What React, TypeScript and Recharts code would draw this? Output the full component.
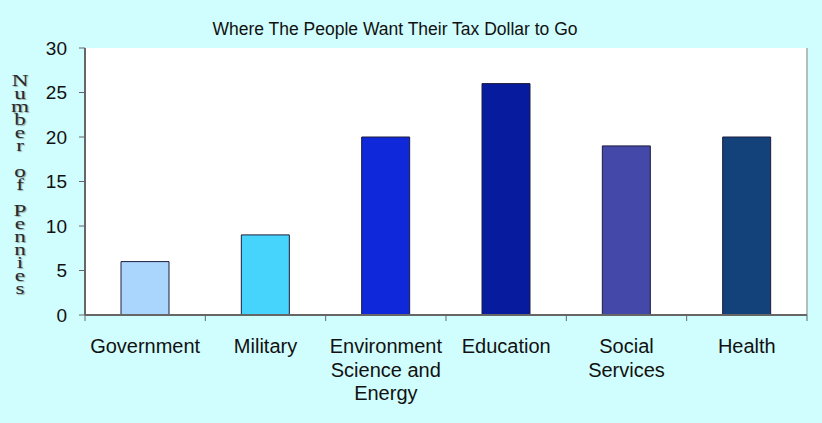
import { BarChart, Bar, XAxis, YAxis, CartesianGrid, Cell } from "recharts";

const categories = [
  "Government",
  "Military",
  "Environment Science and Energy",
  "Education",
  "Social Services",
  "Health",
];
const tickLines = [
  ["Government"],
  ["Military"],
  ["Environment", "Science and", "Energy"],
  ["Education"],
  ["Social", "Services"],
  ["Health"],
];
const pennies = [6, 9, 20, 26, 19, 20];
const barColors = ["#aad5fc", "#46d4fc", "#0f28da", "#061b9e", "#4448a9", "#13427b"];
const yTicks = [0, 5, 10, 15, 20, 25, 30];
const title = "Where The People Want Their Tax Dollar to Go";
const yLabel = "Number of Pennies";

const data = categories.map((name, i) => ({ name, value: pennies[i] }));

const FONT = "'Liberation Sans', Arial, sans-serif";

function CategoryTick(props: any) {
  const { x, y, payload, index } = props;
  const half = payload?.offset ?? 60;
  const lines = tickLines[index] ?? [String(payload.value)];
  return (
    <g>
      <line x1={x - half} x2={x - half} y1={y - 6} y2={y} stroke="#666" />
      {index === categories.length - 1 && (
        <line x1={x + half} x2={x + half} y1={y - 6} y2={y} stroke="#666" />
      )}
      <text x={x} y={y + 32} textAnchor="middle" fontFamily={FONT} fontSize={20} fill="#111">
        {lines.map((l: string, i: number) => (
          <tspan key={i} x={x} dy={i === 0 ? 0 : 23.5}>
            {l}
          </tspan>
        ))}
      </text>
    </g>
  );
}

// letters stacked one under another, drawn wide like the original
function StackedLabel(props: any) {
  const { viewBox } = props;
  const cx = viewBox.x + 20;
  const chars = yLabel.split("");
  const step = 13;
  const cy = viewBox.y + viewBox.height / 2 + 4;
  const start = cy - ((chars.length - 1) * step) / 2;
  return (
    <g transform={`translate(${cx},0) scale(1.45,1)`}>
      <text
        textAnchor="middle"
        fontFamily="'Liberation Serif', 'DejaVu Serif', serif"
        fontSize={16}
        fill="#2a2a2a"
        style={{ textShadow: "1px 1px 1px #9aa" }}
      >
        {chars.map((c, i) => (
          <tspan key={i} x={0} y={start + i * step + 5}>
            {c === " " ? "\u00a0" : c}
          </tspan>
        ))}
      </text>
    </g>
  );
}

export default function App() {
  return (
    <div
      style={{
        position: "absolute",
        left: 0,
        top: 0,
        width: 822,
        height: 423,
        background: "#d0fdfd",
      }}
    >
      <div
        style={{
          position: "absolute",
          top: 19,
          left: 0,
          width: 790,
          textAlign: "center",
          fontFamily: FONT,
          fontSize: 17.5,
          color: "#111",
        }}
      >
        {title}
      </div>
      <BarChart
        width={822}
        height={423}
        data={data}
        margin={{ top: 48, right: 14, bottom: 8, left: 0 }}
      >
        <CartesianGrid
          xAxisId="bottom"
          yAxisId="left"
          fill="#ffffff"
          horizontal={false}
          vertical={false}
        />
        <XAxis
          xAxisId="top"
          orientation="top"
          dataKey="name"
          height={0}
          tick={false}
          tickLine={false}
          axisLine={{ stroke: "#b4bcbc", strokeWidth: 2 }}
        />
        <YAxis
          yAxisId="right"
          orientation="right"
          width={1}
          domain={[0, 30]}
          tick={false}
          tickLine={false}
          axisLine={{ stroke: "#b4bcbc", strokeWidth: 2 }}
        />
        <XAxis
          xAxisId="bottom"
          dataKey="name"
          height={100}
          interval={0}
          tickLine={false}
          tickSize={6}
          tickMargin={0}
          tick={<CategoryTick />}
          axisLine={{ stroke: "#666", strokeWidth: 2 }}
        />
        <YAxis
          yAxisId="left"
          width={85}
          domain={[0, 30]}
          ticks={yTicks}
          interval={0}
          tickSize={6}
          tickMargin={12}
          tick={{ fontFamily: FONT, fontSize: 19, fill: "#111" }}
          tickLine={{ stroke: "#666" }}
          axisLine={{ stroke: "#666", strokeWidth: 2 }}
          label={{ value: yLabel, content: <StackedLabel /> }}
        />
        <Bar
          xAxisId="bottom"
          yAxisId="left"
          dataKey="value"
          barSize={48}
          stroke="#1c1c3c"
          strokeWidth={1}
          isAnimationActive={false}
        >
          {data.map((d, i) => (
            <Cell key={d.name} fill={barColors[i]} />
          ))}
        </Bar>
      </BarChart>
    </div>
  );
}
